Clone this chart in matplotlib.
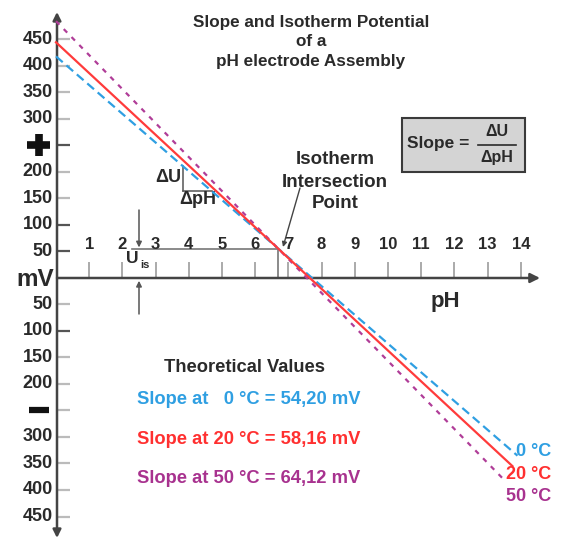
import matplotlib
matplotlib.use("Agg")
import matplotlib.pyplot as plt
import numpy as np
from matplotlib.patches import Rectangle

# ---------------- data ----------------
temps = [0, 20, 50]
slopes = [54.20, 58.16, 64.12]           # mV per pH
ph_end = [13.9, 13.75, 13.5]             # where each isotherm line stops
ph_start = 0.0
iso_ph = 6.7                             # isotherm intersection point
iso_mv = 55.0                            # U_is
line_colors = ['#2f9fe2', '#ff3b3b', '#b03d98']
text_colors = ['#2f9fe2', '#ff3030', '#a8328f']
y_ticks = [450, 400, 350, 300, 250, 200, 150, 100, 50,
           -50, -100, -150, -200, -250, -300, -350, -400, -450]
y_tick_labels = ['450', '400', '350', '300', '+', '200', '150', '100', '50',
                 '50', '100', '150', '200', '\u2212', '300', '350', '400', '450']
x_ticks = list(range(1, 15))
slope_labels = ['Slope at   0 \u00b0C = 54,20 mV',
                'Slope at 20 \u00b0C = 58,16 mV',
                'Slope at 50 \u00b0C = 64,12 mV']
end_labels = ['0 \u00b0C', '20 \u00b0C', '50 \u00b0C']

# ---------------- layout: pixel <-> data ----------------
W, H = 566, 540
X0, SX = 56.0, 33.2      # pixel x of pH 0, pixels per pH
Y0, SY = 278.0, 0.53     # pixel y of 0 mV, pixels per mV

def P(x, y):
    """pixel (top-left origin) -> data coords"""
    return ((x - X0) / SX, (Y0 - y) / SY)

plt.rcParams['font.family'] = ['Liberation Sans', 'DejaVu Sans']
fig = plt.figure(figsize=(W / 100, H / 100), dpi=100)
ax = fig.add_axes([0, 0, 1, 1])
ax.set_xlim(-X0 / SX, (W - X0) / SX)
ax.set_ylim(-(H - Y0) / SY, Y0 / SY)
ax.axis('off')

DARK = '#2a2a2a'
AXC = '#444444'

# ---------------- axes with arrows ----------------
ax.annotate('', xy=P(57, 12), xytext=P(57, 538),
            arrowprops=dict(arrowstyle='<|-|>', color=AXC, lw=1.8,
                            mutation_scale=12, shrinkA=0, shrinkB=0))
ax.annotate('', xy=P(540, Y0), xytext=P(57, Y0),
            arrowprops=dict(arrowstyle='-|>', color=AXC, lw=1.8,
                            mutation_scale=14, shrinkA=0, shrinkB=0))

# y ticks and labels
tick_x0, tick_x1 = P(58, 0)[0], P(70, 0)[0]
for v, lab in zip(y_ticks, y_tick_labels):
    dark = v in (250, 100, 50, -100)
    ax.plot([tick_x0, tick_x1], [v, v], color='#555555' if dark else '#bbbbbb',
            lw=1.6, solid_capstyle='butt', zorder=1)
    if lab == '+':
        cx, cy = P(38.5, 0)[0], v
        hw = 11.5 / SX
        hh = 11 / SY
        ax.plot([cx - hw, cx + hw], [cy, cy], color='#111111', lw=5.5,
                solid_capstyle='butt')
        ax.plot([cx, cx], [cy - hh, cy + hh], color='#111111', lw=5.5,
                solid_capstyle='butt')
    elif lab == '\u2212':
        cx = P(39, 0)[0]
        hw = 10 / SX
        ax.plot([cx - hw, cx + hw], [v, v], color='#111111', lw=4.5,
                solid_capstyle='butt')
    else:
        ax.text(P(53, 0)[0], v, lab, ha='right', va='center',
                fontsize=13, fontweight='bold', color=DARK)

ax.text(*P(35.5, 280), 'mV', ha='center', va='center', fontsize=17.5,
        fontweight='bold', color=DARK)

# x ticks and labels
for p in x_ticks:
    ax.plot([p, p], [0, (Y0 - 263) / SY], color='#aaaaaa', lw=1.4, zorder=1)
    ax.text(p, (Y0 - 245) / SY, str(p), ha='center', va='center',
            fontsize=12, fontweight='bold', color=DARK)
ax.text(*P(445, 302), 'pH', ha='center', va='center', fontsize=16,
        fontweight='bold', color=DARK)

# ---------------- isotherm lines ----------------
dash_styles = [(4.0, 2.2), None, (2.2, 2.8)]
order = [2, 0, 1]
for i in order:
    xs = np.array([ph_start, ph_end[i]])
    ys = iso_mv - slopes[i] * (xs - iso_ph)
    ln, = ax.plot(xs, ys, color=line_colors[i], lw=1.6, zorder=3 + order.index(i))
    if dash_styles[i] is not None:
        ln.set_dashes(dash_styles[i])

# ---------------- U_is construction ----------------
xis = P(139, 0)[0]
ax.plot([P(132, 0)[0], iso_ph], [iso_mv, iso_mv], color='#777777', lw=1.2, zorder=2)
ax.plot([iso_ph, iso_ph], [0, iso_mv], color='#777777', lw=1.2, zorder=2)
ax.annotate('', xy=(xis, iso_mv), xytext=P(139, 210),
            arrowprops=dict(arrowstyle='-|>', color='#555555', lw=1.1,
                            mutation_scale=8, shrinkA=0, shrinkB=1))
ax.annotate('', xy=(xis, 0), xytext=P(139, 314),
            arrowprops=dict(arrowstyle='-|>', color='#555555', lw=1.1,
                            mutation_scale=8, shrinkA=0, shrinkB=2))
ax.text(*P(126, 259), 'U', ha='left', va='center', fontsize=12.5,
        fontweight='bold', color=DARK)
ax.text(*P(140, 265), 'is', ha='left', va='center', fontsize=8,
        fontweight='bold', color=DARK)

# ---------------- slope triangle ----------------
ax.plot([P(183, 0)[0]] * 2, [P(0, 166)[1], P(0, 191)[1]], color='#555555', lw=1.1, zorder=2)
ax.plot([P(183, 0)[0], P(212, 0)[0]], [P(0, 191)[1]] * 2, color='#555555', lw=1.1, zorder=2)
ax.text(*P(181, 178), '\u0394U', ha='right', va='center', fontsize=13,
        fontweight='bold', color=DARK)
ax.text(*P(179, 200), '\u0394pH', ha='left', va='center', fontsize=13,
        fontweight='bold', color=DARK)

# ---------------- isotherm intersection note ----------------
for txt, yy in zip(['Isotherm', 'Intersection', 'Point'], [160, 183, 204]):
    ax.text(*P(335, yy), txt, ha='center', va='center', fontsize=13.5,
            fontweight='bold', color=DARK)
ax.annotate('', xy=P(283, 247), xytext=P(300, 188),
            arrowprops=dict(arrowstyle='-|>', color='#444444', lw=1.0,
                            mutation_scale=7, shrinkA=0, shrinkB=0))

# ---------------- title ----------------
for txt, yy in zip(['Slope and Isotherm Potential', 'of a', 'pH electrode Assembly'],
                   [23, 42, 62]):
    ax.text(*P(311, yy), txt, ha='center', va='center', fontsize=12.3,
            fontweight='bold', color=DARK)

# ---------------- slope box ----------------
bx0, by0 = P(402, 172)
bx1, by1 = P(525, 118)
ax.add_patch(Rectangle((bx0, by0), bx1 - bx0, by1 - by0, facecolor='#d4d4d4',
                       edgecolor='#3a3a3a', lw=1.5, zorder=5))
ax.text(*P(438, 144), 'Slope =', ha='center', va='center', fontsize=12.5,
        fontweight='bold', color=DARK, zorder=6)
ax.text(*P(497, 132), '\u0394U', ha='center', va='center', fontsize=11.5,
        fontweight='bold', color=DARK, zorder=6)
ax.plot([P(478, 0)[0], P(516, 0)[0]], [P(0, 145)[1]] * 2, color=DARK, lw=1.2, zorder=6)
ax.text(*P(497, 158), '\u0394pH', ha='center', va='center', fontsize=11.5,
        fontweight='bold', color=DARK, zorder=6)

# ---------------- theoretical values ----------------
ax.text(*P(244, 368), 'Theoretical Values', ha='center', va='center',
        fontsize=13.2, fontweight='bold', color=DARK)
for lab, c, yy in zip(slope_labels, text_colors, [400, 440, 479]):
    ax.text(*P(137, yy), lab, ha='left', va='center', fontsize=13.2,
            fontweight='bold', color=c)

# end labels
for lab, c, (xx, yy) in zip(end_labels, text_colors, [(516, 452), (506, 475), (506, 497)]):
    ax.text(*P(xx, yy), lab, ha='left', va='center', fontsize=13,
            fontweight='bold', color=c, zorder=7)

fig.savefig('out.png', dpi=100, facecolor='white')
